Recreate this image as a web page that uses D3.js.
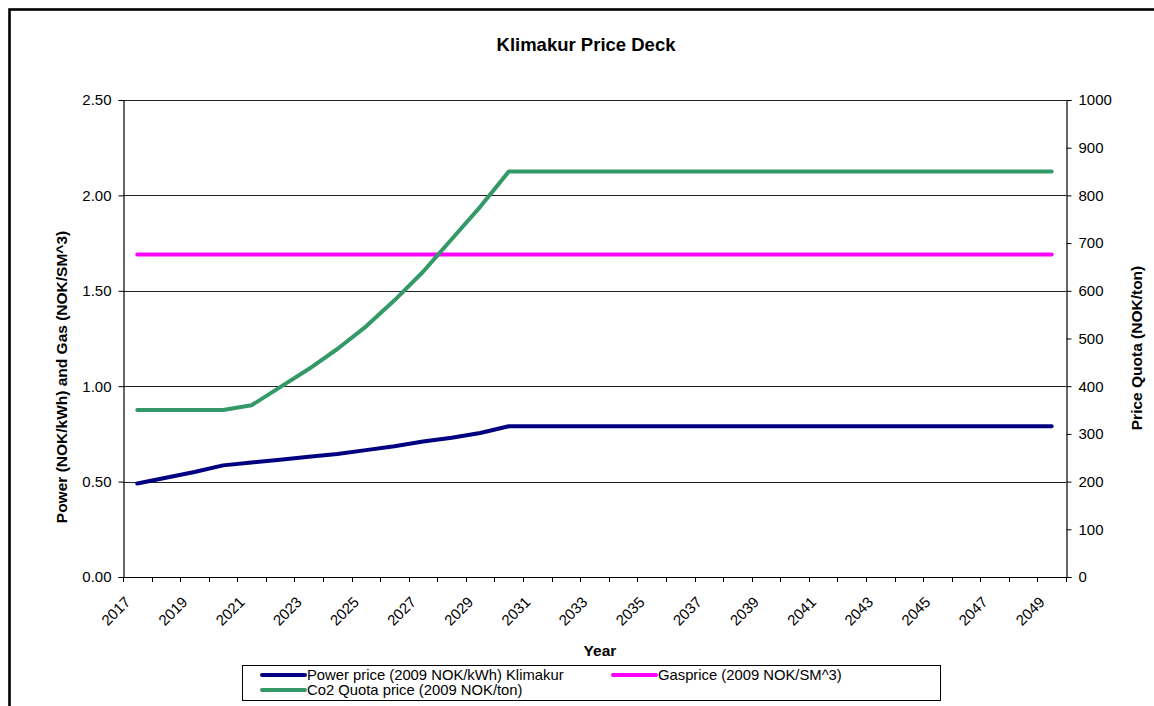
<!DOCTYPE html>
<html>
<head>
<meta charset="utf-8">
<script src="https://cdn.jsdelivr.net/npm/d3@7"></script>
<style>
  html, body { margin: 0; padding: 0; background: #fff; }
  svg { display: block; font-family: "Liberation Sans", Arial, sans-serif; }
</style>
</head>
<body>
<svg id="chart" width="1154" height="706"></svg>
<script>
// Categories (years) and series
const years = ["2017","2018","2019","2020","2021","2022","2023","2024","2025","2026","2027",
  "2028","2029","2030","2031","2032","2033","2034","2035","2036","2037","2038","2039","2040",
  "2041","2042","2043","2044","2045","2046","2047","2048","2049"];

const powerPrice = [0.49,0.52,0.55,0.585,0.60,0.615,0.63,0.645,0.665,0.685,0.71,0.73,0.755,0.79,
  0.79,0.79,0.79,0.79,0.79,0.79,0.79,0.79,0.79,0.79,0.79,0.79,0.79,0.79,0.79,0.79,0.79,0.79,0.79];

const gasPrice = [1.69,1.69,1.69,1.69,1.69,1.69,1.69,1.69,1.69,1.69,1.69,1.69,1.69,1.69,
  1.69,1.69,1.69,1.69,1.69,1.69,1.69,1.69,1.69,1.69,1.69,1.69,1.69,1.69,1.69,1.69,1.69,1.69,1.69];

const co2Price = [350,350,350,350,360,398,436,478,525,580,640,708,776,850,
  850,850,850,850,850,850,850,850,850,850,850,850,850,850,850,850,850,850,850];

const leftTicks = [0, 0.5, 1.0, 1.5, 2.0, 2.5];
const rightTicks = [0, 100, 200, 300, 400, 500, 600, 700, 800, 900, 1000];
const yearLabels = years.filter((d, i) => i % 2 === 0);

const svg = d3.select("#chart");
const plot = { left: 123, right: 1066, top: 100, bottom: 577 };

// Outer chart frame
svg.append("rect")
  .attr("x", 9.5).attr("y", 9.5).attr("width", 1160).attr("height", 710)
  .attr("fill", "none").attr("stroke", "#000").attr("stroke-width", 2.6);

const x = d3.scaleBand().domain(years).range([plot.left, plot.right]).padding(0);
const yL = d3.scaleLinear().domain([0, 2.5]).range([plot.bottom, plot.top]);
const yR = d3.scaleLinear().domain([0, 1000]).range([plot.bottom, plot.top]);
const cx = d => x(d) + x.bandwidth() / 2;

// Horizontal gridlines
svg.append("g").selectAll("line").data(leftTicks.filter(v => v > 0)).join("line")
  .attr("x1", plot.left).attr("x2", plot.right)
  .attr("y1", d => Math.round(yL(d)) + 0.5).attr("y2", d => Math.round(yL(d)) + 0.5)
  .attr("stroke", "#222").attr("stroke-width", 1);

// Left axis
const leftAxis = svg.append("g")
  .attr("transform", `translate(${plot.left + 0.5},0)`)
  .call(d3.axisLeft(yL).tickValues(leftTicks).tickFormat(d3.format(".2f")).tickSize(5).tickPadding(7));

// Right axis
const rightAxis = svg.append("g")
  .attr("transform", `translate(${plot.right + 0.5},0)`)
  .call(d3.axisRight(yR).tickValues(rightTicks).tickFormat(d3.format("d")).tickSize(5).tickPadding(7));

[leftAxis, rightAxis].forEach(g => {
  g.select(".domain").attr("stroke", "#000").attr("stroke-width", 1.2);
  g.selectAll(".tick line").attr("stroke", "#000");
  g.selectAll(".tick text").attr("font-size", 15).attr("fill", "#000")
    .attr("font-family", "Liberation Sans, Arial, sans-serif");
});

// Bottom axis: baseline, boundary ticks, rotated labels every other year
const xAxisG = svg.append("g");
xAxisG.append("line")
  .attr("x1", plot.left).attr("x2", plot.right)
  .attr("y1", plot.bottom + 0.5).attr("y2", plot.bottom + 0.5)
  .attr("stroke", "#000").attr("stroke-width", 1.2);
const boundaries = years.map(d => x(d)).concat([plot.right]);
xAxisG.selectAll("line.tk").data(boundaries).join("line").attr("class", "tk")
  .attr("x1", d => Math.round(d) + 0.5).attr("x2", d => Math.round(d) + 0.5)
  .attr("y1", plot.bottom).attr("y2", plot.bottom + 5)
  .attr("stroke", "#000");
xAxisG.selectAll("text").data(yearLabels).join("text")
  .attr("transform", d => `translate(${cx(d) - 6},${plot.bottom + 26}) rotate(-45)`)
  .attr("text-anchor", "end")
  .attr("font-size", 15)
  .text(d => d);

// Series lines
const lineL = vals => d3.line().x((d, i) => cx(years[i])).y(d => yL(d))(vals);
const lineR = vals => d3.line().x((d, i) => cx(years[i])).y(d => yR(d))(vals);

svg.append("path").attr("d", lineL(gasPrice))
  .attr("fill", "none").attr("stroke", "#FF00FF").attr("stroke-width", 4)
  .attr("stroke-linecap", "round");
svg.append("path").attr("d", lineR(co2Price))
  .attr("fill", "none").attr("stroke", "#339966").attr("stroke-width", 4)
  .attr("stroke-linecap", "round").attr("stroke-linejoin", "round");
svg.append("path").attr("d", lineL(powerPrice))
  .attr("fill", "none").attr("stroke", "#000080").attr("stroke-width", 4)
  .attr("stroke-linecap", "round").attr("stroke-linejoin", "round");

// Titles
svg.append("text").attr("x", 586).attr("y", 51).attr("text-anchor", "middle")
  .attr("font-size", 18.5).attr("font-weight", "bold").text("Klimakur Price Deck");
svg.append("text").attr("x", 600).attr("y", 656).attr("text-anchor", "middle")
  .attr("font-size", 15.5).attr("font-weight", "bold").text("Year");
svg.append("text").attr("transform", "translate(67,377) rotate(-90)").attr("text-anchor", "middle")
  .attr("font-size", 15.5).attr("font-weight", "bold").text("Power (NOK/kWh) and Gas (NOK/SM^3)");
svg.append("text").attr("transform", "translate(1142,348) rotate(-90)").attr("text-anchor", "middle")
  .attr("font-size", 15.5).attr("font-weight", "bold").text("Price Quota (NOK/ton)");

// Legend
const legend = svg.append("g");
legend.append("rect").attr("x", 242.5).attr("y", 665.5).attr("width", 698).attr("height", 35)
  .attr("fill", "#fff").attr("stroke", "#000").attr("stroke-width", 1);
const legendItems = [
  { name: "Power price (2009 NOK/kWh) Klimakur", color: "#000080", x: 262, y: 675 },
  { name: "Gasprice (2009 NOK/SM^3)", color: "#FF00FF", x: 613, y: 675 },
  { name: "Co2 Quota price (2009 NOK/ton)", color: "#339966", x: 262, y: 690 }
];
const li = legend.selectAll("g").data(legendItems).join("g");
li.append("line")
  .attr("x1", d => d.x).attr("x2", d => d.x + 43)
  .attr("y1", d => d.y).attr("y2", d => d.y)
  .attr("stroke", d => d.color).attr("stroke-width", 4).attr("stroke-linecap", "round");
li.append("text")
  .attr("x", d => d.x + 45).attr("y", d => d.y + 5)
  .attr("font-size", 14.8).text(d => d.name);
</script>
</body>
</html>
